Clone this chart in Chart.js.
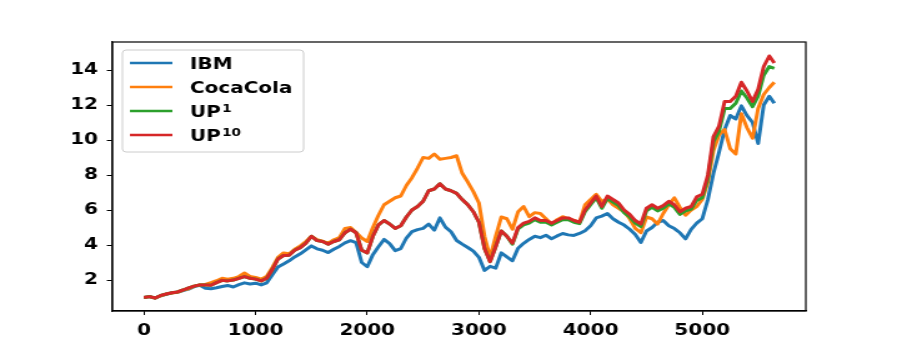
<!DOCTYPE html>
<html>
<head>
<meta charset="utf-8">
<script src="https://cdn.jsdelivr.net/npm/chart.js@4/dist/chart.umd.min.js"></script>
<style>
  html, body { margin: 0; padding: 0; background: #fff; overflow: hidden; }
  /* the reference figure is stretched sideways, so draw narrow and scale */
  #wrap { width: 718px; height: 349px; transform: scaleX(1.2493); transform-origin: 0 0; }
</style>
</head>
<body>
<div id="wrap"><canvas id="chart" width="718" height="349"></canvas></div>
<script>
// ---- data ----
const seriesNames = ['IBM', 'CocaCola', 'UP', 'UP'];
const seriesSups = ['', '', '1', '10'];
const seriesColors = ['#1f77b4', '#ff7f0e', '#2ca02c', '#d62728'];

const xTicks = [0, 1000, 2000, 3000, 4000, 5000];
const yTicks = [2, 4, 6, 8, 10, 12, 14];

const steps = [
  0, 50, 100, 150, 200, 250, 300, 350, 400, 450,
  500, 550, 600, 650, 700, 750, 800, 850, 900, 950,
  1000, 1050, 1100, 1150, 1200, 1250, 1300, 1350, 1400, 1450,
  1500, 1550, 1600, 1650, 1700, 1750, 1800, 1850, 1900, 1950,
  2000, 2050, 2100, 2150, 2200, 2250, 2300, 2350, 2400, 2450,
  2500, 2550, 2600, 2650, 2700, 2750, 2800, 2850, 2900, 2950,
  3000, 3050, 3100, 3150, 3200, 3250, 3300, 3350, 3400, 3450,
  3500, 3550, 3600, 3650, 3700, 3750, 3800, 3850, 3900, 3950,
  4000, 4050, 4100, 4150, 4200, 4250, 4300, 4350, 4400, 4450,
  4500, 4550, 4600, 4650, 4700, 4750, 4800, 4850, 4900, 4950,
  5000, 5050, 5100, 5150, 5200, 5250, 5300, 5350, 5400, 5450,
  5500, 5550, 5600, 5645
];

const ibm = [
  1.00, 1.05, 0.97, 1.10, 1.18, 1.27, 1.30, 1.40, 1.48, 1.62,
  1.70, 1.53, 1.50, 1.56, 1.63, 1.69, 1.60, 1.74, 1.84, 1.77,
  1.82, 1.72, 1.84, 2.30, 2.75, 2.92, 3.10, 3.32, 3.50, 3.72,
  3.95, 3.78, 3.70, 3.57, 3.76, 3.92, 4.12, 4.25, 4.14, 3.00,
  2.76, 3.45, 3.90, 4.32, 4.08, 3.68, 3.80, 4.40, 4.76, 4.88,
  4.95, 5.20, 4.85, 5.55, 5.02, 4.76, 4.26, 4.05, 3.86, 3.65,
  3.30, 2.55, 2.78, 2.68, 3.55, 3.32, 3.10, 3.82, 4.10, 4.32,
  4.50, 4.42, 4.56, 4.36, 4.52, 4.66, 4.58, 4.55, 4.66, 4.82,
  5.10, 5.55, 5.65, 5.80, 5.50, 5.30, 5.14, 4.90, 4.60, 4.15,
  4.80, 5.00, 5.30, 5.40, 5.10, 4.94, 4.70, 4.35, 4.90, 5.25,
  5.50, 6.60, 8.10, 9.30, 10.60, 11.40, 11.20, 11.95, 11.40, 11.00,
  9.80, 12.00, 12.50, 12.10
];

const cocaCola = [
  1.00, 1.05, 0.97, 1.10, 1.20, 1.25, 1.30, 1.42, 1.50, 1.65,
  1.72, 1.75, 1.85, 1.96, 2.10, 2.05, 2.10, 2.20, 2.40, 2.20,
  2.15, 2.05, 2.22, 2.72, 3.30, 3.55, 3.50, 3.76, 3.95, 4.20,
  4.50, 4.30, 4.22, 4.10, 4.30, 4.42, 4.95, 5.00, 4.72, 4.40,
  4.20, 5.00, 5.70, 6.30, 6.50, 6.70, 6.80, 7.40, 7.85, 8.40,
  9.00, 8.95, 9.20, 8.90, 8.95, 9.00, 9.10, 8.10, 7.60, 7.05,
  6.40, 4.50, 3.30, 4.50, 5.60, 5.50, 4.90, 5.90, 6.20, 5.62,
  5.85, 5.80, 5.50, 5.20, 5.45, 5.62, 5.50, 5.40, 5.30, 6.30,
  6.60, 6.90, 6.50, 6.62, 6.30, 6.10, 5.90, 5.50, 4.95, 4.70,
  5.60, 5.50, 5.20, 5.80, 6.30, 6.70, 6.15, 5.70, 6.00, 6.20,
  6.60, 7.60, 9.40, 10.30, 10.60, 9.50, 9.20, 11.50, 10.70, 10.10,
  11.80, 12.60, 13.00, 13.30
];

const up1 = [
  1.00, 1.05, 0.97, 1.12, 1.20, 1.27, 1.32, 1.43, 1.55, 1.65,
  1.72, 1.72, 1.70, 1.85, 1.98, 1.95, 2.00, 2.10, 2.20, 2.10,
  2.05, 1.95, 2.10, 2.60, 3.20, 3.40, 3.42, 3.70, 3.85, 4.10,
  4.50, 4.25, 4.20, 4.05, 4.20, 4.30, 4.70, 4.90, 4.70, 3.70,
  3.55, 4.50, 5.15, 5.40, 5.20, 4.95, 5.10, 5.60, 6.00, 6.20,
  6.50, 7.10, 7.20, 7.50, 7.20, 7.10, 6.95, 6.60, 6.30, 5.90,
  5.30, 3.80, 3.05, 3.90, 4.80, 4.50, 4.05, 4.92, 5.15, 5.25,
  5.45, 5.30, 5.30, 5.15, 5.30, 5.45, 5.45, 5.30, 5.22, 5.90,
  6.30, 6.70, 6.10, 6.65, 6.45, 6.25, 5.85, 5.60, 5.25, 5.05,
  5.95, 6.15, 5.95, 6.10, 6.35, 6.15, 5.75, 5.95, 6.05, 6.55,
  6.70, 7.80, 9.90, 10.50, 11.80, 11.80, 12.10, 12.80, 12.40, 11.90,
  12.50, 13.70, 14.20, 14.10
];

const up10 = [
  1.00, 1.05, 0.97, 1.12, 1.20, 1.27, 1.32, 1.43, 1.55, 1.65,
  1.72, 1.72, 1.70, 1.85, 1.98, 1.95, 2.00, 2.10, 2.20, 2.10,
  2.05, 1.95, 2.10, 2.60, 3.20, 3.40, 3.42, 3.70, 3.85, 4.10,
  4.50, 4.25, 4.20, 4.05, 4.20, 4.30, 4.70, 4.90, 4.70, 3.70,
  3.55, 4.50, 5.15, 5.40, 5.20, 4.95, 5.10, 5.60, 6.00, 6.20,
  6.50, 7.10, 7.20, 7.50, 7.20, 7.10, 6.95, 6.60, 6.30, 5.90,
  5.30, 3.80, 3.05, 3.90, 4.80, 4.50, 4.10, 5.00, 5.25, 5.35,
  5.55, 5.40, 5.40, 5.25, 5.40, 5.55, 5.55, 5.40, 5.30, 6.00,
  6.40, 6.80, 6.20, 6.80, 6.60, 6.40, 6.00, 5.75, 5.40, 5.20,
  6.10, 6.30, 6.10, 6.25, 6.50, 6.30, 5.90, 6.10, 6.20, 6.75,
  6.90, 8.00, 10.20, 10.80, 12.20, 12.20, 12.50, 13.30, 12.80, 12.20,
  12.90, 14.20, 14.80, 14.40
];

const allSeries = [ibm, cocaCola, up1, up10];

// ---- helpers ----
const FONT = { family: 'DejaVu Sans', weight: 'bold', size: 16 };

const toPoints = arr => arr.map((v, i) => ({ x: steps[i], y: v }));

// frame on all four sides + legend box in the upper left
const frameAndLegend = {
  id: 'frameAndLegend',
  afterDraw(chart) {
    const { ctx, chartArea: a } = chart;
    ctx.save();
    ctx.strokeStyle = '#000';
    ctx.lineWidth = 1.2;
    ctx.strokeRect(a.left, a.top, a.right - a.left, a.bottom - a.top);

    // legend
    const bx = 98, by = 50, bw = 145, bh = 102;
    ctx.beginPath();
    ctx.roundRect(bx, by, bw, bh, 3);
    ctx.fillStyle = 'rgba(255,255,255,0.8)';
    ctx.fill();
    ctx.strokeStyle = '#cccccc';
    ctx.lineWidth = 1;
    ctx.stroke();

    ctx.textAlign = 'left';
    seriesNames.forEach((name, i) => {
      const y = 63 + i * 24;
      ctx.beginPath();
      ctx.moveTo(104, y);
      ctx.lineTo(138, y);
      ctx.strokeStyle = seriesColors[i];
      ctx.lineWidth = 2.5;
      ctx.stroke();

      ctx.fillStyle = '#000';
      ctx.font = 'bold 16px "DejaVu Sans"';
      ctx.textBaseline = 'alphabetic';
      const base = y + 6;
      ctx.fillText(name, 152, base);
      if (seriesSups[i]) {
        const w = ctx.measureText(name).width;
        ctx.font = 'bold 11px "DejaVu Sans"';
        ctx.fillText(seriesSups[i], 152 + w + 1, base - 5);
      }
    });
    ctx.restore();
  }
};

new Chart(document.getElementById('chart'), {
  type: 'line',
  data: {
    datasets: allSeries.map((arr, i) => ({
      label: seriesNames[i] + seriesSups[i],
      data: toPoints(arr),
      borderColor: seriesColors[i],
      backgroundColor: seriesColors[i],
      borderWidth: 3,
      borderJoinStyle: 'round',
      pointRadius: 0,
      tension: 0,
      order: 4 - i   // later series drawn on top, like matplotlib
    }))
  },
  options: {
    responsive: false,
    animation: false,
    layout: { padding: { top: 42, right: 73, left: 0, bottom: 0 } },
    plugins: {
      legend: { display: false },
      tooltip: { enabled: false }
    },
    scales: {
      x: {
        type: 'linear',
        min: -282,
        max: 5927,
        afterBuildTicks: s => { s.ticks = xTicks.map(v => ({ value: v })); },
        afterFit: s => { s.height = 38; },
        grid: { drawOnChartArea: false, drawTicks: true, tickLength: 4, color: '#000', lineWidth: 1 },
        border: { color: '#000', width: 1.2 },
        ticks: { color: '#000', font: FONT, padding: 6, maxRotation: 0, autoSkip: false,
                 callback: v => String(v) }
      },
      y: {
        type: 'linear',
        min: 0.23,
        max: 15.6,
        afterBuildTicks: s => { s.ticks = yTicks.map(v => ({ value: v })); },
        afterFit: s => { s.width = 90; },
        grid: { drawOnChartArea: false, drawTicks: true, tickLength: 4.5, color: '#000', lineWidth: 1 },
        border: { color: '#000', width: 1.2 },
        ticks: { color: '#000', font: FONT, padding: 7, autoSkip: false,
                 callback: v => String(v) }
      }
    }
  },
  plugins: [frameAndLegend]
});
</script>
</body>
</html>
